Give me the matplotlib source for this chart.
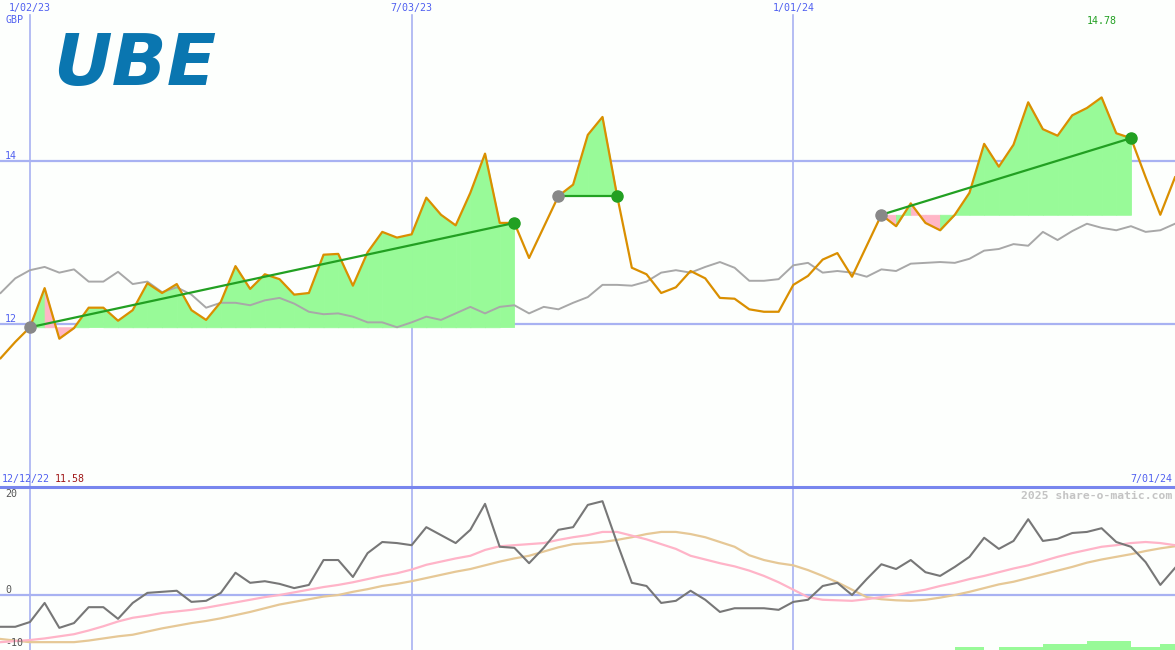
import matplotlib
matplotlib.use('Agg')
import matplotlib.pyplot as plt
import numpy as np

# weekly data, week 0 = 1/02/23
weeks = list(range(-2, 79))
price = [11.58, 11.78, 11.96, 12.44, 11.82, 11.95, 12.20, 12.20, 12.04, 12.17,
         12.50, 12.38, 12.49, 12.17, 12.05, 12.27, 12.71, 12.43, 12.61, 12.55,
         12.36, 12.38, 12.85, 12.86, 12.47, 12.88, 13.13, 13.06, 13.10, 13.55,
         13.34, 13.21, 13.61, 14.09, 13.24, 13.24, 12.81, 13.19, 13.57, 13.71,
         14.32, 14.54, 13.57, 12.69, 12.61, 12.38, 12.45, 12.65, 12.56, 12.32,
         12.31, 12.18, 12.15, 12.15, 12.48, 12.59, 12.79, 12.87, 12.58, 12.96,
         13.34, 13.20, 13.48, 13.24, 13.15, 13.34, 13.61, 14.21, 13.93, 14.20,
         14.72, 14.39, 14.31, 14.56, 14.65, 14.78, 14.34, 14.28, 13.80, 13.34,
         13.80]
index_line = [12.38, 12.56, 12.66, 12.70, 12.63, 12.67, 12.52, 12.52, 12.64, 12.49,
              12.52, 12.39, 12.45, 12.36, 12.20, 12.26, 12.26, 12.23, 12.29, 12.32,
              12.25, 12.15, 12.12, 12.13, 12.09, 12.02, 12.02, 11.96, 12.02, 12.09,
              12.05, 12.13, 12.21, 12.13, 12.21, 12.23, 12.13, 12.21, 12.18, 12.26,
              12.33, 12.48, 12.48, 12.47, 12.52, 12.63, 12.66, 12.63, 12.70, 12.76,
              12.69, 12.53, 12.53, 12.55, 12.72, 12.75, 12.63, 12.65, 12.63, 12.58,
              12.67, 12.65, 12.74, 12.75, 12.76, 12.75, 12.80, 12.90, 12.92, 12.98,
              12.96, 13.13, 13.03, 13.14, 13.23, 13.18, 13.15, 13.20, 13.13, 13.15,
              13.23]
momentum = [-6.0, -6.0, -5.1, -1.5, -6.2, -5.3, -2.3, -2.3, -4.5, -1.5,
            0.4, 0.6, 0.8, -1.3, -1.1, 0.4, 4.2, 2.3, 2.6, 2.1,
            1.3, 1.9, 6.6, 6.6, 3.4, 7.9, 10.0, 9.8, 9.4, 12.8,
            11.3, 9.8, 12.3, 17.2, 9.1, 8.9, 6.0, 8.9, 12.3, 12.8,
            17.0, 17.7, 9.8, 2.3, 1.7, -1.5, -1.1, 0.8, -0.9, -3.2,
            -2.5, -2.5, -2.5, -2.8, -1.3, -0.9, 1.7, 2.3, 0.0, 3.0,
            5.8, 4.9, 6.6, 4.3, 3.6, 5.3, 7.2, 10.8, 8.7, 10.2,
            14.3, 10.2, 10.6, 11.7, 11.9, 12.6, 10.0, 9.1, 6.2, 1.9,
            5.1]
mom_fast = [-8.9, -8.7, -8.5, -8.2, -7.8, -7.4, -6.7, -5.9, -5.0, -4.3,
            -3.9, -3.4, -3.1, -2.8, -2.4, -1.9, -1.4, -0.9, -0.4, 0.0,
            0.5, 1.0, 1.5, 1.9, 2.4, 3.0, 3.6, 4.1, 4.8, 5.7,
            6.3, 6.9, 7.4, 8.5, 9.2, 9.4, 9.6, 9.8, 10.4, 10.9,
            11.3, 11.9, 11.9, 11.2, 10.5, 9.6, 8.7, 7.4, 6.7, 6.0,
            5.4, 4.6, 3.6, 2.4, 1.0, -0.4, -0.9, -1.0, -1.1, -0.8,
            -0.4, 0.0, 0.5, 1.0, 1.7, 2.3, 3.0, 3.6, 4.3, 5.0,
            5.6, 6.4, 7.2, 7.9, 8.5, 9.1, 9.4, 9.8, 10.0, 9.8,
            9.4]
mom_slow = [-8.3, -8.6, -8.9, -8.9, -8.9, -8.9, -8.6, -8.2, -7.8, -7.5,
            -6.9, -6.3, -5.8, -5.3, -4.9, -4.4, -3.8, -3.2, -2.5, -1.8,
            -1.3, -0.8, -0.3, 0.0, 0.6, 1.1, 1.7, 2.1, 2.6, 3.2,
            3.8, 4.4, 4.9, 5.6, 6.3, 6.9, 7.4, 8.2, 9.0, 9.6,
            9.8, 10.0, 10.4, 10.9, 11.5, 11.9, 11.9, 11.5, 10.9, 10.0,
            9.1, 7.5, 6.6, 6.0, 5.6, 4.7, 3.6, 2.4, 1.0, -0.4,
            -0.8, -1.0, -1.1, -0.9, -0.5, 0.0, 0.6, 1.3, 2.0, 2.5,
            3.2, 3.9, 4.6, 5.3, 6.1, 6.7, 7.2, 7.7, 8.3, 8.8,
            9.2]
vol_weeks = [63, 64, 66, 67, 68, 69, 70, 71, 72, 73, 74, 75, 76, 77]
vol = [0.6, 0.6, 0.6, 0.6, 0.6, 1.1, 1.1, 1.1, 1.7, 1.7, 1.7, 0.6, 0.6, 1.1]

trend_start = [0, 36, 58]
trend_end = [33, 40, 75]
grid_weeks = [0, 26, 52]
grid_labels = ['1/02/23', '7/03/23', '1/01/24']
price_ticks = [12, 14]
mom_ticks = [20, 0, -10]

weeks = np.array(weeks)
price = np.array(price)

mono = 'DejaVu Sans Mono'
blue = '#5060f0'
gridc = '#a8b2f2'

fig = plt.figure(figsize=(11.75, 6.5), dpi=100)
fig.patch.set_facecolor('#fdfffd')
ax = fig.add_axes([0, 163/650, 1, 487/650])
ax2 = fig.add_axes([0, 0, 1, 163/650])
for a in (ax, ax2):
    a.set_axis_off()
    a.set_xlim(-2.04, 78.0)
ax.set_ylim(10.0, 15.975)
ax2.set_ylim(-10.38, 20.38)

# grid
for t in price_ticks:
    ax.axhline(t, color=gridc, lw=1.6, zorder=1)
    ax.text(5/1175, t, str(t), transform=ax.get_yaxis_transform(), ha='left', va='bottom',
            family=mono, fontsize=7.2, color=blue)
for w, lab in zip(grid_weeks, grid_labels):
    ax.axvline(w, ymax=1 - 15/487, color=gridc, lw=1.2, zorder=1)
    ax2.axvline(w, color=gridc, lw=1.2, zorder=1)
    ax.text(w, 1 - 8/487, lab, transform=ax.get_xaxis_transform(), ha='center', va='center',
            family=mono, fontsize=7.2, color=blue)
ax2.axhline(0, color=gridc, lw=1.6, zorder=1)
ax2.axhline(20.38, color='#7886ee', lw=2.2, clip_on=False, zorder=5)

# trend fills: each weekly step coloured by where it ends vs the start price
for s, e in zip(trend_start, trend_end):
    base = price[weeks == s][0]
    for w in range(s, e):
        i = w + 2
        col = '#98fa98' if price[i + 1] >= base else '#ffb6c6'
        ax.fill_between(weeks[i:i + 2], price[i:i + 2], base, facecolor=col,
                        edgecolor=col, lw=0.6, zorder=2)

ax.plot(weeks, index_line, color='#a8a8a8', lw=1.4, zorder=3)
ax.plot(weeks, price, color='#da8f00', lw=1.6, zorder=4)

for s, e in zip(trend_start, trend_end):
    ps = price[weeks == s][0]
    pe = price[weeks == e][0]
    ax.plot([s, e], [ps, pe], color='#22a022', lw=1.6, zorder=5)
    ax.plot(s, ps, 'o', color='#888888', ms=8, zorder=6)
    ax.plot(e, pe, 'o', color='#22a022', ms=8, zorder=6)

# labels
fig.text(5/1175, 1 - 20/650, 'GBP', ha='left', va='center', family=mono, fontsize=7.2, color=blue)
top = weeks[np.argmax(price)]
ax.text(top, 1 - 21/487, '%.2f' % price.max(), transform=ax.get_xaxis_transform(),
        ha='center', va='center', family=mono, fontsize=7.2, color='#22a022')
ax.text(2/1175, 3/487, '12/12/22', transform=ax.transAxes, ha='left', va='bottom',
        family=mono, fontsize=7.2, color=blue)
ax.text(55/1175, 3/487, '%.2f' % price[0], transform=ax.transAxes, ha='left', va='bottom',
        family=mono, fontsize=7.2, color='#a01818')
ax.text(1172/1175, 3/487, '7/01/24', transform=ax.transAxes, ha='right', va='bottom',
        family=mono, fontsize=7.2, color=blue)
fig.text(135/1175, 1 - 65/650, 'UBE', ha='center', va='center', fontsize=52,
         fontweight='bold', fontstyle='italic', color='#0a76b0', family='DejaVu Sans')

# lower panel
ax2.bar(vol_weeks, vol, width=1, align='edge', bottom=-10.38, color='#98fa98', lw=0, zorder=2)
ax2.plot(weeks, mom_slow, color='#e6c896', lw=1.6, zorder=3)
ax2.plot(weeks, mom_fast, color='#ffb4c8', lw=1.6, zorder=3)
ax2.plot(weeks, momentum, color='#777777', lw=1.5, zorder=4)
for t in mom_ticks:
    ax2.text(5/1175, t, str(t), transform=ax2.get_yaxis_transform(), ha='left',
             va='top' if t == 20 else 'bottom', family=mono, fontsize=7.2, color='#555555')
ax2.text(1172/1175, 1 - 9/163, '2025 share-o-matic.com', transform=ax2.transAxes,
         ha='right', va='center', family=mono, fontsize=8.2, fontweight='bold', color='#c4c4c4')

fig.savefig('out.png', dpi=100, facecolor=fig.get_facecolor())
